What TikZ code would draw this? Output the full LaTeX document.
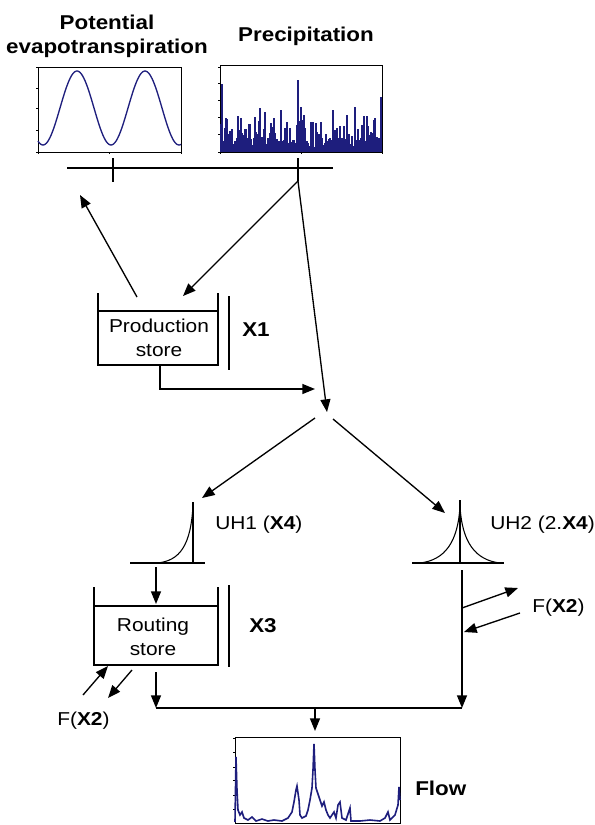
\documentclass[tikz,border=0pt]{standalone}
\usepackage{fontspec}
\setmainfont[FakeStretch=1.12]{Liberation Sans}
\usepackage{tikz}
\usetikzlibrary{arrows.meta,positioning,calc}
\definecolor{plotblue}{RGB}{30,30,125}

\begin{document}
\begin{tikzpicture}[
  x=0.75pt, y=-0.75pt,
  every node/.style={font=\fontsize{14}{17.5}\selectfont, inner sep=0pt},
  lbl/.style={font=\fontsize{15}{18}\selectfont\bfseries},
  arr/.style={-{Triangle[length=9.5pt,width=7.5pt]}, line width=1pt},
  wall/.style={line width=1.7pt},
  plotc/.style={plotblue, line width=1pt},
  frame/.style={line width=0.6pt}
]
  \useasboundingbox (0,0) rectangle (594,825);

  % input series
  \node[lbl, align=center, anchor=base] (petlbl) at (107,53) {Potential\\evapotranspiration};
  \node[lbl, anchor=base] (plbl) at (306,41) {Precipitation};

  \draw[frame] (38,67) rectangle (181,152);
  \foreach \t in {67,88,108,130,152} \draw[frame] (36,\t) -- (38,\t);
  \foreach \t in {38,109,181} \draw[frame] (\t,152) -- (\t,154);
  \draw[plotc] plot[domain=38:181, samples=120, smooth] (\x,{min(146,108-37*cos(5.294*(\x-77)))});

  \draw[frame] (220,65) rectangle (382,152);
  \foreach \t in {67,83,100,117,134,152} \draw[frame] (218,\t) -- (220,\t);
  \foreach \t in {220,301,382} \draw[frame] (\t,152) -- (\t,154);
  \pgfmathsetseed{4}
  \foreach \i in {221,...,381}{
    \pgfmathsetmacro\h{34*rnd^3+12*rnd+2}
    \draw[plotc, line width=0.85pt] (\i,152) -- ++(0,-\h);
  }
  \foreach \i/\h in {222/68, 265/40, 281/42, 298/72, 301/45, 355/45, 375/34, 381/55}
    \draw[plotc, line width=0.85pt] (\i,152) -- ++(0,-\h);

  \draw[line width=1.1pt] (67,168) -- (333,168);
  \draw[line width=1.1pt] (113,158) -- (113,182);
  \draw[line width=1.1pt] (298,158) -- (298,181);

  % production store
  \coordinate (split) at (298,181);
  \coordinate (etp) at (80,195);
  \coordinate (prodtop) at (183,296);
  \coordinate (prodetp) at (137,297);
  \coordinate (prodout) at (160,366);
  \coordinate (joinin) at (315,389);
  \coordinate (join) at (327,412);
  \coordinate (joinl) at (315,418);
  \coordinate (joinr) at (333,419);

  \draw[wall] (98,293) -- (98,365) -- (218,365) -- (218,293);
  \draw[line width=1.2pt] (98,311) -- (218,311);
  \draw[line width=0.8pt] (229,296) -- (229,370);
  \node[align=center, anchor=base] (prod) at (159,356) {Production\\store};
  \node[lbl, anchor=base] (x1) at (256,336) {X1};

  \draw[arr] (split) -- (prodtop);
  \draw[arr] (split) -- (join);
  \draw[arr] (prodetp) -- (etp);
  \draw[arr] (prodout) |- (joinin);

  % unit hydrographs
  \coordinate (uh1top) at (202,498);
  \coordinate (uh2top) at (445,513);
  \draw[arr] (joinl) -- (uh1top);
  \draw[arr] (joinr) -- (uh2top);

  \draw[line width=0.8pt] (130,563) -- (205,563);
  \draw[line width=0.8pt] (193,563) -- (193,502);
  \draw[line width=0.8pt] (157,563) .. controls (180,561) and (191,545) .. (193,505);
  \node[anchor=base west] (uh1) at (215,529) {UH1 (\textbf{X4})};

  \draw[line width=0.8pt] (412,563) -- (504,563);
  \draw[line width=0.8pt] (460,563) -- (460,500);
  \draw[line width=0.8pt] (420,563) .. controls (445,560) and (458,542) .. (460,506)
    .. controls (462,542) and (475,560) .. (500,563);
  \node[anchor=base west] (uh2) at (490,529) {UH2 (2.\textbf{X4})};

  % routing store
  \coordinate (uh1out) at (156,567);
  \coordinate (routtop) at (156,604);
  \draw[arr] (uh1out) -- (routtop);

  \draw[wall] (94,587) -- (94,665) -- (218,665) -- (218,587);
  \draw[line width=1.2pt] (94,606) -- (218,606);
  \draw[line width=0.8pt] (229,585) -- (229,667);
  \node[align=center, anchor=base] (rout) at (153,655) {Routing\\store};
  \node[lbl, anchor=base] (x3) at (263,632) {X3};

  \coordinate (fl1) at (83,695);
  \coordinate (fl2) at (108,666);
  \coordinate (fl3) at (132,670);
  \coordinate (fl4) at (108,698);
  \draw[arr] (fl1) -- (fl2);
  \draw[arr] (fl3) -- (fl4);
  \node[anchor=base west] (fx2l) at (57,725) {F(\textbf{X2})};

  \coordinate (fr1) at (462,608);
  \coordinate (fr2) at (518,588);
  \coordinate (fr3) at (520,613);
  \coordinate (fr4) at (464,632);
  \draw[arr] (fr1) -- (fr2);
  \draw[arr] (fr3) -- (fr4);
  \node[anchor=base west] (fx2r) at (532,612) {F(\textbf{X2})};

  % total flow
  \coordinate (routout) at (156,672);
  \coordinate (collectl) at (156,708);
  \coordinate (uh2out) at (462,570);
  \coordinate (collectr) at (462,708);
  \coordinate (collectm) at (315,708);
  \coordinate (flowin) at (315,731);
  \draw[arr] (routout) -- (collectl);
  \draw[arr] (uh2out) -- (collectr);
  \draw[line width=1pt] (collectl) -- (collectr);
  \draw[arr] (collectm) -- (flowin);

  \draw[frame] (235,737) rectangle (400,823);
  \foreach \t in {738,752,767,780,795,809} \draw[frame] (233,\t) -- (235,\t);
  \draw[plotc, line width=1.2pt] (235,822) -- (236,757) -- (237,790) -- (238,810) -- (240,815) -- (242,812)
    -- (244,818) -- (248,820) -- (252,817) -- (256,821) -- (262,819) -- (268,821) -- (274,820)
    -- (282,821) -- (288,818) -- (292,812) -- (294,802) -- (296,790) -- (297,786) -- (299,800)
    -- (300,815) -- (302,818) -- (306,816) -- (308,810) -- (310,800) -- (312,788) -- (313,770)
    -- (314,744) -- (315,770) -- (316,788) -- (318,794) -- (320,800) -- (322,806) -- (324,802)
    -- (326,810) -- (328,815) -- (330,818) -- (334,812) -- (336,818) -- (338,805) -- (340,802)
    -- (342,818) -- (346,820) -- (350,808) -- (351,821) -- (360,821) -- (370,820) -- (380,821)
    -- (385,818) -- (388,812) -- (390,820) -- (395,815) -- (398,805) -- (399,787) -- (400,800);
  \node[lbl, anchor=base west] (flowlbl) at (415,795) {Flow};
\end{tikzpicture}
\end{document}
